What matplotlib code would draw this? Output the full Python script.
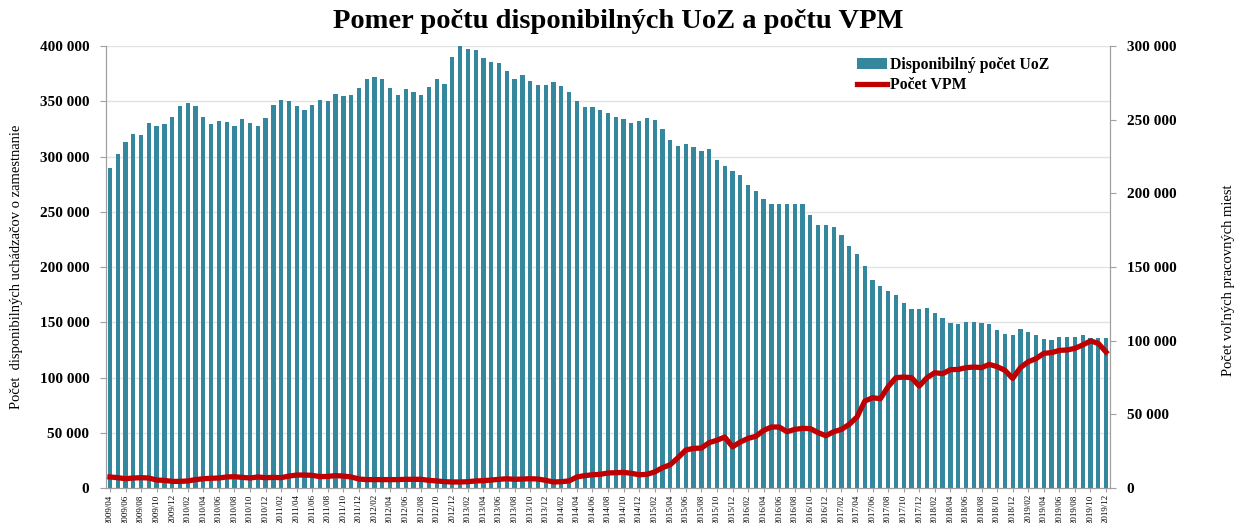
import matplotlib
matplotlib.use("Agg")
import matplotlib.pyplot as plt
from matplotlib.ticker import FuncFormatter, MultipleLocator

# Monthly data 2009/04 .. 2019/12
months = [f"{y}/{m:02d}" for y in range(2009, 2020) for m in range(1, 13)]
months = months[3:]

uoz = [290, 302, 313, 320, 319.6, 330, 328, 329, 335.5, 346, 348.5, 346,
       336, 329, 332, 331.6, 327.7, 334, 330.7, 328, 335, 346.7, 351, 350,
       345.5, 342.5, 346.7, 351, 350, 357, 355, 356, 362, 370, 371.7, 370,
       362, 356, 360.8, 358.7, 356, 363, 370, 366, 390, 399.7, 397, 396,
       389, 385.5, 385, 377, 370, 373.5, 368.7, 364.5, 364.5, 367, 364, 358.7,
       350, 345, 345, 342, 339, 336, 334, 330.5, 332, 334.6, 332.8, 325,
       315, 309.6, 311, 309, 305, 307, 296.4, 291, 287, 283, 274, 269,
       262, 257, 257, 257, 256.6, 256.6, 247, 238, 238, 236, 228.6, 219,
       211.7, 200.6, 188, 183, 178.6, 174.7, 167.5, 162, 162, 163, 158.4, 154,
       149.4, 148, 150, 150.6, 149, 148, 143.4, 139.5, 138.3, 144, 141.6, 138.3,
       135.2, 134, 136.4, 137, 137, 138.9, 135.8, 135.5, 135.5]
uoz = [v * 1000 for v in uoz]

vpm = [7.5, 7, 6.3, 6.8, 7, 6.8, 5.4, 5.2, 4.5, 4.5, 4.8, 5.7,
       6.3, 6.6, 6.8, 7.5, 7.7, 7.2, 6.8, 7.5, 7, 7.2, 7, 8.1,
       8.8, 8.8, 8.6, 7.7, 7.9, 8.4, 8.1, 7.5, 6.1, 5.7, 5.7, 5.7,
       5.7, 5.7, 5.9, 5.9, 5.9, 5.2, 4.8, 4.3, 4.1, 4.1, 4.3, 4.8,
       5, 5.4, 5.9, 6.3, 5.9, 6.1, 6.3, 6.1, 5.2, 4.1, 4.3, 4.8,
       7.5, 8.4, 9, 9.3, 10.2, 10.4, 10.6, 10, 9, 9.3, 10.9, 13.8,
       15.8, 20.6, 25.8, 26.9, 27.1, 30.8, 32.4, 34.6, 28, 31.2, 33.7, 35.1,
       39.1, 41.4, 41.4, 38.2, 39.8, 40.5, 40.3, 37.6, 35.5, 38.2, 39.8, 43.2,
       48.2, 59, 61.3, 60.6, 68.8, 74.9, 75.3, 74.9, 69.2, 74.9, 78.3, 77.6,
       80.3, 80.5, 81.7, 82.1, 81.7, 83.9, 82.4, 79.9, 74.4, 81.7, 85.7, 87.8,
       91.4, 91.9, 93.4, 93.7, 94.8, 97.1, 99.8, 98.2, 92.3]
vpm = [v * 1000 for v in vpm]

title = "Pomer počtu disponibilných UoZ a počtu VPM"
ylabel_left = "Počet  disponibilných uchádzačov o zamestnanie"
ylabel_right = "Počet voľných pracovných miest"
label_uoz = "Disponibilný počet UoZ"
label_vpm = "Počet VPM"

serif = ["Liberation Serif", "DejaVu Serif"]
plt.rcParams["font.family"] = serif

bar_color = "#35879E"
line_color = "#C00000"

fig = plt.figure(figsize=(12.36, 5.23), dpi=100)
ax = fig.add_axes([0.0858, 0.0669, 0.898 - 0.0858, 0.912 - 0.0669])
ax2 = ax.twinx()

x = list(range(len(months)))
b = ax.bar(x, uoz, width=0.55, color=bar_color, zorder=2, label=label_uoz)
l, = ax2.plot(x, vpm, color=line_color, lw=3.8, solid_joinstyle="round",
              zorder=3, label=label_vpm)

ax.set_zorder(1)
ax2.set_zorder(2)
ax.patch.set_visible(True)
ax2.patch.set_visible(False)

ax.set_xlim(-0.5, len(months) - 0.5)
ax.set_ylim(0, 400000)
ax2.set_ylim(0, 300000)
ax.yaxis.set_major_locator(MultipleLocator(50000))
ax2.yaxis.set_major_locator(MultipleLocator(50000))

fmt = FuncFormatter(lambda v, p: "0" if v == 0 else f"{int(v):,}".replace(",", " "))
ax.yaxis.set_major_formatter(fmt)
ax2.yaxis.set_major_formatter(fmt)

ax.grid(axis="y", color="#E3E3E3", lw=1.0, zorder=0)
ax.set_axisbelow(True)

ax.set_xticks(x[::2])
ax.set_xticklabels(months[::2], rotation=90, fontsize=6.5)
ax.tick_params(axis="x", length=3, color="#A0A0A0", pad=1.5)
ax.tick_params(axis="y", length=4, color="#A0A0A0", labelsize=11, pad=8)
ax2.tick_params(axis="y", length=4, color="#A0A0A0", labelsize=11, pad=8)
for t in ax.get_yticklabels() + ax2.get_yticklabels():
    t.set_fontweight("bold")

for a in (ax, ax2):
    for s in ("left", "right", "bottom"):
        a.spines[s].set_color("#A0A0A0")
    a.spines["top"].set_visible(False)

ax.set_ylabel(ylabel_left, fontsize=10.5, labelpad=12)
ax2.set_ylabel(ylabel_right, fontsize=10.5)
ax2.yaxis.set_label_coords(1.1116, 0.47)

fig.text(0.5, 1 - 21 / 523, title, fontsize=20.5, fontweight="bold",
         ha="center", va="center")

leg = ax.legend([b, l], [label_uoz, label_vpm], loc="upper left",
                bbox_to_anchor=(0.748, 0.976), frameon=False,
                borderaxespad=0, borderpad=0,
                prop={"weight": "bold", "size": 11.3}, handlelength=1.9,
                handletextpad=0.2, labelspacing=0.3)

fig.savefig("out.png", dpi=100)
